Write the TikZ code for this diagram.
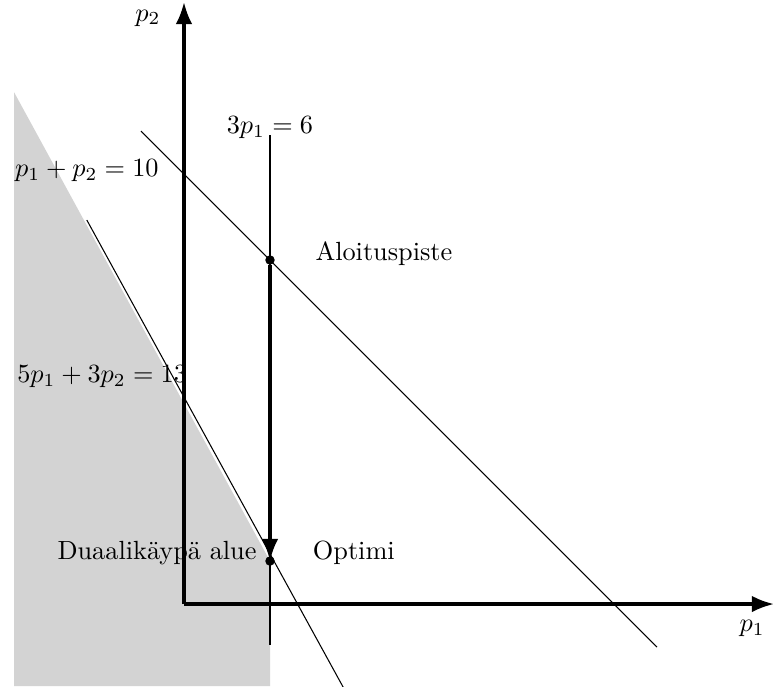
\documentclass[tikz,border=0pt]{standalone}
\usetikzlibrary{arrows.meta}
\definecolor{feasgray}{RGB}{211,211,211}
\begin{document}
\begin{tikzpicture}[x=0.575cm,y=0.575cm,
  axis/.style={very thick,-{Latex}},
  cline/.style={thin},
  pathline/.style={very thick,-{Latex}},
  dot/.style={circle,fill=black,inner sep=0pt,minimum size=3.6pt},
  lbl/.style={inner sep=1pt}]
\useasboundingbox (-4.279,-1.907) rectangle (13.744,14.047);
% dual feasible region
\fill[feasgray] (-3.95,11.9) -- (2,1) -- (2,-1.907) -- (-3.95,-1.907) -- cycle;
% axes
\coordinate (O) at (0,0);
\coordinate (xend) at (13.72,0);
\coordinate (yend) at (0,14.0);
\draw[axis] (O) -- (xend);
\draw[axis] (O) -- (yend);
\node[lbl] (p1lab) at (13.21,-0.56) {$p_1$};
\node[lbl] (p2lab) at (-0.84,13.63) {$p_2$};
% constraint lines
\coordinate (a1) at (-1,11);
\coordinate (a2) at (11,-1);
\draw[cline] (a1) -- (a2);
\coordinate (b1) at (2,10.9);
\coordinate (b2) at (2,-0.95);
\draw[cline] (b1) -- (b2);
\coordinate (c1) at (-2.26,8.93);
\coordinate (c2) at (3.70,-1.93);
\draw[cline] (c1) -- (c2);
% labels
\node[lbl] (l3p) at (2,11.07) {$3p_1=6$};
\node[lbl,anchor=west] (lsum) at (-4.0,10.07) {$p_1+p_2=10$};
\node[lbl,anchor=west] (l53) at (-3.95,5.28) {$5p_1+3p_2=13$};
% points
\node[dot] (start) at (2,8) {};
\node[dot] (opt) at (2,1) {};
\draw[pathline] (start) -- (opt.center);
\node[lbl] (lstart) at (4.65,8.14) {Aloituspiste};
\node[lbl] (lopt) at (3.95,1.19) {Optimi};
\node[lbl,anchor=east] (lfeas) at (1.76,1.19) {Duaalikäypä alue};
\end{tikzpicture}
\end{document}
